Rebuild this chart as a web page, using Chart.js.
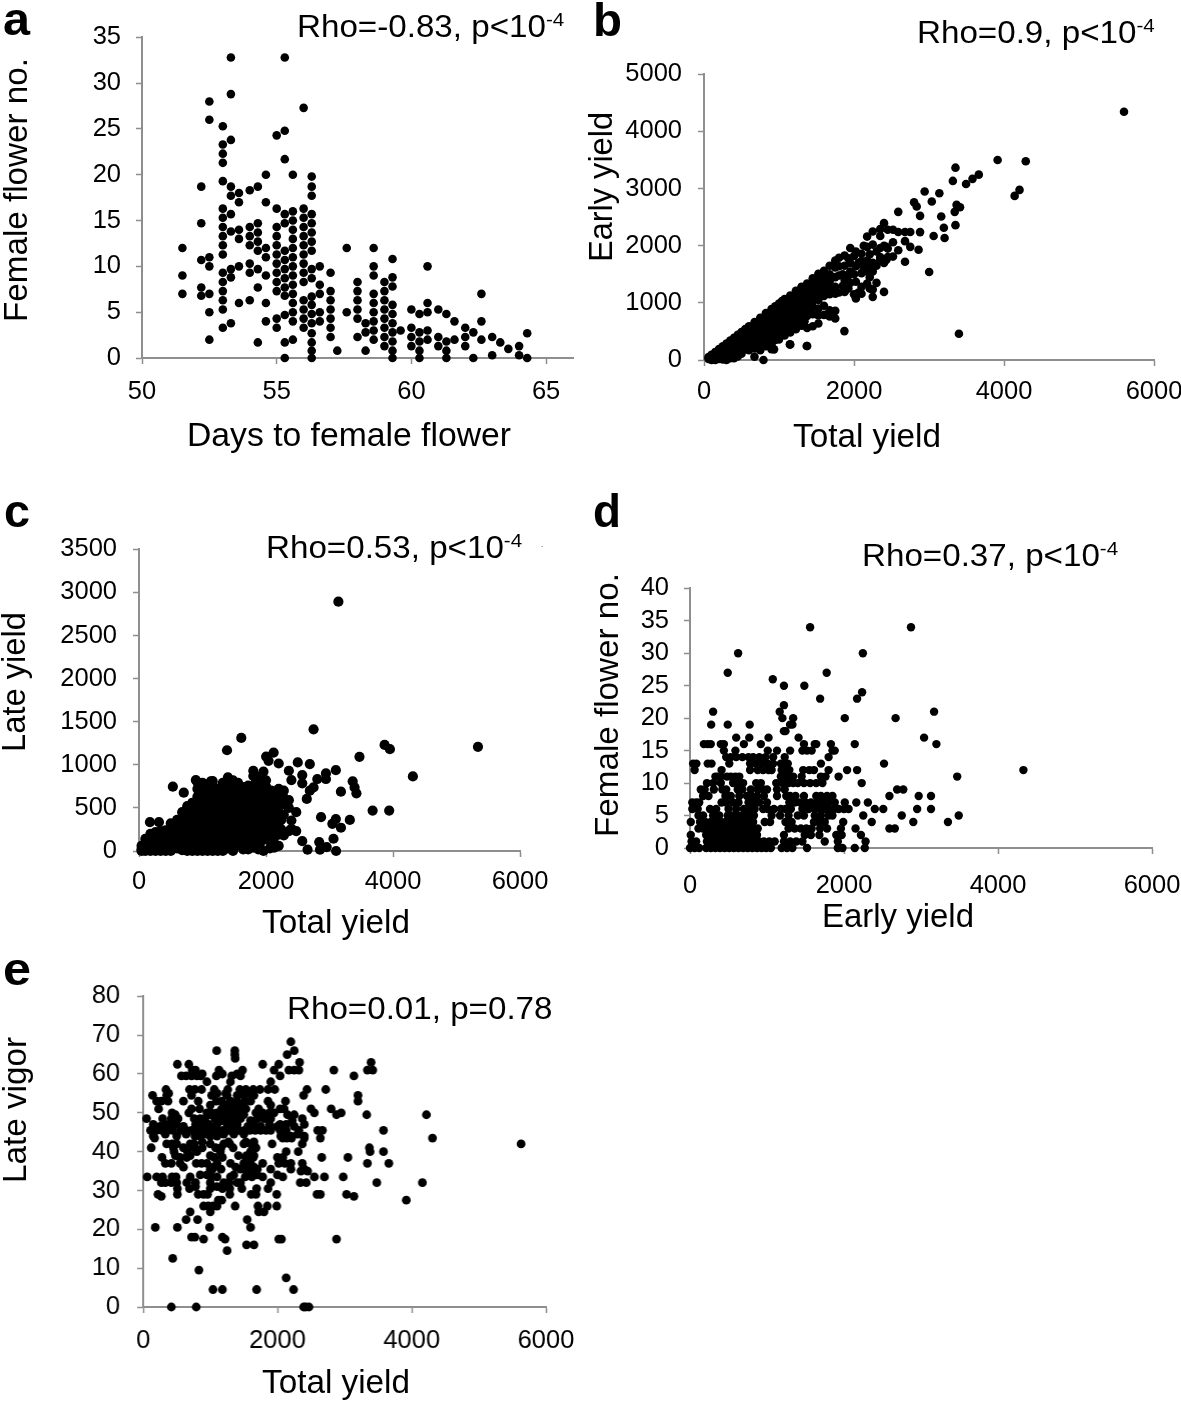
<!DOCTYPE html>
<html><head><meta charset="utf-8">
<script src="https://cdn.jsdelivr.net/npm/chart.js@4"></script>
<style>
html,body{margin:0;padding:0;background:#fff;width:1181px;height:1401px;overflow:hidden}
canvas{position:absolute;display:block}
svg{position:absolute;left:0;top:0;pointer-events:none}
svg text{font-family:"Liberation Sans",Arial,sans-serif;fill:#000}
</style></head><body>
<script>
// ---------- panel a: columns of days, with the flower counts read in each column
const aDays=[51.5,52.2,52.5,53,53.3,53.6,54,54.3,54.6,55,55.3,55.6,56,56.3,56.6,57,57.25,57.6,58,58.3,58.6,59,59.3,59.6,60,60.3,60.6,61,61.3,61.6,62,62.3,62.6,63,63.3,63.6,64,64.3];
const aFlowers=[[12,9,7],[18.7,14.7,10.7,7.7,6.8],[28,26,11,10,7,5,2],[25.3,23.3,22.3,21.3,19.3,16.3,15.3,14.3,13.3,12.3,11.3,9.3,8.3,7.3,6.3,5.3,3.3],[32.8,28.8,23.8,18.7,17.7,15.7,13.8,9.7,8.8,3.8],[18,17,14,13,10,6],[18.3,14.3,13.3,12.3,10.3,9.3,6.3],[18.7,14.7,13.7,12.7,11.7,9.7,7.7,1.7],[20,17,12,11,9,6,4],[24.3,16.3,14.3,13.3,12.3,11.3,10.3,9.3,8.3,7.3,4.3,3.3],[32.8,24.8,21.7,15.7,14.7,11.7,10.7,9.7,8.7,7.7,6.8,4.7,1.7,0],[20,16,15,14,13,12,11,10,9,8,7,6,5,4,2],[27.3,16.3,15.3,14.3,13.3,12.3,11.3,10.3,9.3,8.3,6.3,5.3,4.3,3.3],[19.8,18.7,17.7,15.7,14.7,13.7,12.7,11.7,9.7,8.7,6.7,5.8,4.8,3.8,2.7,1.7,0.8,0],[10,8,7,5,4],[9.3,7.3,6.3,5.3,4.3,3.3,2.3],[0.8],[12,5],[8.3,7.3,6.3,5.3,4.3,2.3],[3.8,2.8,0.8],[12,10,9,7,6,5,4,3,2],[8.3,7.3,6.3,5.3,4.3,3.3,2.3,1.3],[10.8,8.8,7.8,5.8,4.8,3.8,2.8,1.8,0.8,0],[3],[5.3,3.3,2.3,1.3],[4.8,2.8,1.8,0.8,0],[10,6,5,3,2],[5.3,2.3,1.3],[4.8,1.8,0.8,0],[4,2],[3.3,2.3,1.3],[2.8,0],[7,4,2],[2.3,0.3],[1.7],[1],[1.3,0.3],[2.7,0]];
// ---------- panel b: total yield, with early yield read at each total
const bTotal=[60,100,150,200,250,300,350,400,450,500,550,600,675,750,825,900,1000,1075,1150,1225,1300,1375,1450,1525,1600,1675,1750,1800,1875,1950,2025,2100,2175,2250,2350,2400,2450,2520,2590,2680,2750,2801,2836,2881,2942,3002,3037,3062,3138,3163,3198,3208,3318,3343,3353,3368,3399,3414,3494,3580,3664,3915,4142,4207,4290,5600,673,793,934,1145,1370,1872,2861,950,1040,1190,1340,1850,1925,2000,2060,2130,2210,2300,2430];
const bEarly=[[50,20],[90,40,0],[140,90,30,0],[190,140,80,20],[240,190,130,70,10],[290,240,180,120,60,0],[340,280,220,160,100,30],[390,330,270,210,150,90,30],[440,380,320,260,200,130,60],[490,430,370,310,250,180,110],[540,470,400,330,260,190],[590,520,450,380,310,240,170],[665,590,510,430,360,280,200],[740,660,580,500,420,340,260,170],[820,730,650,570,490,410,330,240],[890,800,720,630,550,470,390,300,190,260],[990,900,810,720,630,540,450,360],[1065,970,880,790,700,610,520,430],[1130,1040,950,860,770,680,590,480,270],[1210,1110,1020,930,840,750,660,540],[1280,1190,1100,1000,910,820,720,600],[1340,1250,1160,1060,960,870,770,560,244],[1430,1340,1240,1140,1030,930,800,590],[1510,1400,1300,1180,1050,900,780,640],[1560,1450,1320,1210,1120,950,790],[1650,1500,1380,1250,1150,870,760],[1740,1620,1450,1280,1160,860,727],[1790,1640,1480,1180],[1830,1650,1400,1190],[1960,1700,1550,1350],[1900,1640,1370,1075],[1860,1730,1520,1280,1160],[2160,1980,1740,1550,1337],[2250,2020,1700,1550,1233,1105],[2170,1960,1800,1750,2290],[2395,2000,1700,1192],[2280,1950,1800],[2280,2060,1810],[2593,2240,1920],[2240,2080,1720],[2240,1980],[2762],[2686],[2523,2238],[2948],[1541],[2773],[2169],[2919],[2512],[2314],[2134],[3134],[2593],[3366,2360],[2715],[459],[2674],[3080],[3170],[3244],[3500],[2872],[2977],[3477],[4345],[58],[0],[186],[273],[244],[506],[1930],[940,860,770,680,590,510,430,350],[1030,850,670,500],[1000,820,620],[1050,880,680],[1500,1300],[1780,1480,1250],[1820,1500,1150],[1700,1180],[2000,1620],[1850,1620,1450,1250],[1900,1650,1350],[1980,1750]];
// ---------- panel c: total yield, with late yield read at each total
const cTotal=[40,100,172,180,260,314,340,420,500,533,600,680,705,760,840,895,920,1000,1080,1131,1160,1240,1320,1386,1400,1480,1560,1611,1640,1720,1800,1880,1960,2002,2040,2120,2200,2280,2360,2400,2476,2500,2571,2642,2690,2749,2808,2867,2944,3045,3100,3140,3180,3320,3365,3395,3424,3472,3679,3868,3940,3951,4313,5338,2654,2850,2956,3104,3063,2838,1700,1900,2060,2130,1040,1440,1520,1680,1760,1840,1920,2000,2080,2160,2240];
const cLate=[[0,60,20],[0,70,140],[335],[0,60,130,200],[0,80,160,220],[335],[0,70,150,230],[0,70,160,240],[0,80,170,260,320],[746],[30,110,200,290,360],[10,100,190,280,370,450],[677],[0,90,180,270,360,450,520],[0,100,190,280,370,460,560],[823],[0,90,180,270,360,450,540,630,720,800],[0,100,200,300,400,500,600,700,790],[0,90,180,270,360,450,540,640,730],[808],[0,100,200,300,400,480,570,660,760,810],[0,90,180,270,360,450,550,640,720],[0,100,190,280,370,460,520,620,700,790],[1169],[30,120,210,300,390,480,600,690,780,854],[0,110,200,290,380,470,560,650,740,820],[90,180,270,360,450,540,630,720,790],[1312],[20,120,210,300,390,480,570,660,740],[20,170,240,330,420,510,600,690,760],[40,100,190,280,370,460,550,640,730,870,931],[20,130,230,320,410,500,590,680,770,860],[0,130,270,350,440,530,620,920],[1096],[250,340,430,520,610,680,1046],[140,300,380,470,560,690,1142],[60,190,330,420,510,650,720,1015],[180,420,540,620,700],[230,500,590,931],[258,354,823],[231,450],[1027],[115,785,881],[604],[700,1008],[1412,738],[835],[392],[835,900],[315],[370,938],[2892],[270,688],[360],[808],[738],[669],[1092],[469],[1231],[469],[1181],[865],[1208],[15],[15],[46],[0],[142],[104],[80,310],[60,180],[30,120,200],[40,230],[50,150,250,350,450,550,650],[70,160,250,340,430,520],[60,250,420,600,700],[300,430,520,610,700],[270,380,470,560,650,720],[240,330,420,510,600,690,800],[280,370,460,550,640,720,850],[210,300,390,480,570,650,750,820],[320,410,500,590,700],[290,360,450,540,620],[250,360,600]];
// ---------- panel d: flower count levels, with the early yields read on each level
const dFlowers=[34,30,27,26,25,24,23,22,21,20,19,18,17,16,15,14,13,12,11,10,9,8,7,6,5,4,3,2,1,0];
const dEarly=[[1560,2870],[625,2245],[490,1775],[1075],[1220,1485],[2235],[1690,2170],[1220],[1165,300,3170],[1200,1340,2010,2670],[275,490,775,1300,1330],[1220,1240],[600,770,1020,1410,3040],[180,230,270,400,440,700,920,1480,1620,1640,1830,2140,3200],[440,590,1010,1130,1300,1460,1520,1580,1850,1880],[470,530,600,680,760,820,900,980,1080,1230,1800],[40,83,230,280,510,780,850,930,1010,1080,1180,1220,1270,1700,2520],[60,410,780,880,950,1020,1060,1190,1240,1290,1470,1550,1610,1800,2040,2170,4330],[330,360,400,480,530,590,640,1180,1240,1280,1340,1450,1700,1760,1930,3470],[220,300,400,560,610,690,860,920,1120,1200,1280,1340,1400,1480,1560,1640,1720,2230],[140,190,310,420,470,620,680,790,880,950,1000,1130,1230,2690,2770],[170,240,460,530,640,740,800,870,960,1130,1250,1300,1370,1480,1640,1700,1780,1850,2590,2970,3130],[30,80,120,410,470,560,630,760,830,900,1000,1290,1360,1430,1500,1570,1650,1730,1800,1880,2010,2160,2310],[30,100,260,340,500,600,700,780,840,950,1010,1090,1180,1240,1310,1460,1540,1620,1690,1750,1810,1870,1930,2000,2060,2400,2510,2950,3130],[110,170,300,380,490,560,620,680,750,830,1060,1170,1280,1400,1480,1620,1700,1800,1850,2250,2750,3490],[10,130,200,270,340,400,460,530,580,640,690,770,820,970,1040,1240,1320,1610,1670,1750,1990,2360,2900,3350],[110,170,230,290,350,410,470,530,600,680,720,780,820,880,1280,1360,1440,1510,1580,1690,1780,1960,2150,2590,2660],[10,210,270,330,390,450,510,570,630,690,750,810,870,1220,1490,1570,1680,1900,1970,2220],[20,80,220,280,340,400,460,520,580,640,720,780,840,900,960,1030,1100,1220,1300,1380,1460,1750,1920,2280],[0,60,120,210,270,330,390,450,510,570,630,690,750,810,870,930,990,1050,1190,1260,1330,1520,1920,1980,2140,2270]];
// ---------- panel e: vigor levels, with the total yields read on each level
const eVigor=[68.3,66,65,64,63,62.5,61,59.5,58,56,54.5,53,51,50,49.5,48.5,47,45.5,44,43.5,42,41,40,38.5,37,35.5,35,33.5,32,30.5,29,28.5,27.5,26,24.5,22.5,20.5,18,17.5,16,14.5,12.5,9.5,7.5,4.5,0,55,52,48,46.5,44.5,42.5,39,36,34,31,60];
const eTotal=[[2200],[1095,2250,1365],[1365,2145],[1370],[3395,2330],[510,680,1780,2020],[730,780,1130,1480,1950,2170,2250,2320,2840,3340,3420],[570,640,720,800,860,1090,1320,1450,2040,3140],[950,1300,1900],[340,690,770,870,1060,1260,1440,1530,1640,1740,1860,1960,2440,2720],[140,350,720,1020,1250,1400,1500,1650,2390,3200],[200,270,370,600,820,1090,1170,1300,1400,1520,1600,1860,2120,3200],[230,720,840,1170,1290,1410,1530,1720,2040,2100,2500,2800],[430,680,950,1020,1100,1200,1300,1380,1480,1680,1780,1880,1950,2550,2950],[480,1000,1150,1250,1500,2150,2250,2880,3330,4220],[50,290,420,520,760,850,920,1070,1150,1250,1350,1450,1700,1800,1900,2370],[150,330,400,500,780,880,980,1100,1250,1400,1650,1880,2040,2130,2400],[110,200,280,360,440,560,640,720,800,880,950,1030,1110,1190,1270,1350,1430,1510,1590,1670,1750,1830,1900,2040,2130,2320,2600,2670,3580],[150,500,770,850,1000,1100,2050,2200,2400],[170,2080,2140,2210,2400,2640,4310],[350,430,500,700,760,1000,1200,1290,1500,1600,1920,2370,5630],[120,450,600,760,880,1080,1160,1340,1680,3370],[460,660,800,1150,1600,2130,2310,3380,3580],[280,550,650,1060,1180,1530,1600,1640,2000,2080,2660,3050],[330,420,550,790,870,950,1100,1300,1500,1600,1780,2020,2110,2200,2370,3340,3660],[1000,1030,1160,1450,1530,1620,1700,1900,2200,2400],[1600,2350,2450],[60,200,290,430,490,700,1020,1100,1300,1520,1620,1780,2080,2550,2700,2980],[270,330,420,500,650,780,1000,1200,1280,1400,1450,1900,2340,2430,3480,4160],[510,690,1000,1180,1290,1470,1690,1860],[220,510,820,900,960,1290,1610,1680,1990,2590,2640,3030],[270,3140],[1120,1170,3920],[900,970,1040,1100,1370,1710,1850,1990],[700,1000,1720,1800],[640,810,1550],[180,510,990,1600],[720,770,1180],[900,1220,2020,2060,2880],[1540,1650],[1250],[440],[830],[2130],[1040,1180,1690,2240],[420,790,2390,2420,2470],[380,1100,1230,1560],[1000,1240,1350,1480,1900],[1100,1180,1300,1600,2220],[250,600,1000,1300,1560,1750,2000,2250],[330,640,950,1200,1350,1500,2300],[880,1270,1530,1650],[480,700,1000,1420,1540,1650],[600,1050,1380,1570,1650],[850,950,1350,1560,1700,2000],[780,1100,1270],[780,880,1180,1400]];

// ---------- tick settings
const aXRange=[50,66,5], aYRange=[0,35,5];
const bXRange=[0,6000,2000], bYRange=[0,5000,1000];
const cXRange=[0,6000,2000], cYRange=[0,3500,500];
const dXRange=[0,6000,2000], dYRange=[0,40,5];
const eXRange=[0,6000,2000], eYRange=[0,80,10];

const colPts=(xs,lists)=>xs.flatMap((x,i)=>lists[i].map(y=>({x,y})));
const rowPts=(ys,lists)=>ys.flatMap((y,i)=>lists[i].map(x=>({x,y})));

const AXIS='#8e8e8e', FONT='"Liberation Sans",Arial,sans-serif';
const ML=100,MR=60,MT=30,MB=50;

function panel(box,pts,xr,yr,r,xPad,yPad){
  const [l,rt,b,t]=box;
  const c=document.createElement('canvas');
  const W=rt-l+ML+MR,H=b-t+MT+MB;
  c.width=W;c.height=H;c.style.left=(l-ML)+'px';c.style.top=(t-MT)+'px';
  c.style.width=W+'px';c.style.height=H+'px';
  document.body.appendChild(c);
  const scale=(rng,pad,fit)=>({type:'linear',min:rng[0],max:rng[1],
    afterBuildTicks:s=>{const k=[];for(let v=rng[0];v<=rng[1];v+=rng[2])k.push({value:v});s.ticks=k;},
    afterFit:fit,
    grid:{display:true,drawOnChartArea:false,drawTicks:true,tickLength:6,tickColor:AXIS,tickWidth:1.5},
    border:{display:true,color:AXIS,width:2},
    ticks:{stepSize:rng[2],padding:pad,color:'#000',maxRotation:0,autoSkip:false,callback:v=>String(v),font:{family:FONT,size:25.5}}});
  new Chart(c,{type:'scatter',
    data:{datasets:[{data:pts,pointRadius:r,pointHoverRadius:r,backgroundColor:'#000',borderWidth:0,clip:false}]},
    options:{responsive:false,animation:false,events:[],
      layout:{autoPadding:false,padding:{left:0,top:MT,right:MR,bottom:0}},
      plugins:{legend:{display:false},tooltip:{enabled:false}},
      scales:{x:scale(xr,xPad,s=>{s.height=MB;}),y:scale(yr,yPad,s=>{s.width=ML;})}}});
}
panel([141.5,572.5,358,37],colPts(aDays,aFlowers),aXRange,aYRange,4.3,13,15);
panel([703.5,1153.5,360,72.5],colPts(bTotal,bEarly),bXRange,bYRange,4.3,11,16);
panel([139,520,850.5,547.5],colPts(cTotal,cLate),cXRange,cYRange,5.1,10,16);
panel([689.5,1151.5,847.5,587.5],rowPts(dFlowers,dEarly),dXRange,dYRange,4.2,17,15);
panel([143,545.5,1307,994],rowPts(eVigor,eTotal),eXRange,eYRange,4.4,13,17);

// ---------- text
const NS='http://www.w3.org/2000/svg';
const svg=document.createElementNS(NS,'svg');
svg.setAttribute('width',1181);svg.setAttribute('height',1401);
document.body.appendChild(svg);
function label(s,x,y,size,opt={}){
  const t=document.createElementNS(NS,'text');
  t.setAttribute('font-size',size);
  if(opt.sx){t.setAttribute('transform','translate('+x+' '+y+') scale('+opt.sx+' 1)');}
  else{t.setAttribute('x',x);t.setAttribute('y',y);}
  if(opt.bold)t.setAttribute('font-weight','bold');
  if(opt.rot)t.setAttribute('transform','rotate(-90 '+x+' '+y+')');
  if(opt.width){t.setAttribute('textLength',opt.width);t.setAttribute('lengthAdjust','spacingAndGlyphs');}
  t.appendChild(document.createTextNode(s));
  if(opt.sup){const u=document.createElementNS(NS,'tspan');u.setAttribute('dy',-11);u.setAttribute('font-size',size*0.62);u.textContent=opt.sup;t.appendChild(u);}
  svg.appendChild(t);
}
label('a',3,35,47,{bold:1,width:27});
label('b',593,36,47,{bold:1,width:29});
label('c',4,527,47,{bold:1,width:26});
label('d',593,527,47,{bold:1,width:28});
label('e',3,985,47,{bold:1,width:28});
label('Rho=-0.83, p<10',297,37,31,{sup:'-4',sx:1.07});
label('Rho=0.9, p<10',917,43,31,{sup:'-4',sx:1.07});
label('Rho=0.53, p<10',266,558,31,{sup:'-4',sx:1.07});
label('Rho=0.37, p<10',862,566,31,{sup:'-4',sx:1.07});
label('Rho=0.01, p=0.78',287,1019,31,{sx:1.07});
label('Days to female flower',187,446,33,{width:324});
label('Total yield',793,447,33,{width:148});
label('Total yield',262,933,33,{width:148});
label('Early yield',822,927,33,{width:152});
label('Total yield',262,1393,33,{width:148});
label('Female flower no.',27,322,34,{rot:1,width:264});
label('Early yield',612,262,34,{rot:1,width:150});
label('Late yield',24.5,752,34,{rot:1,width:140});
label('Female flower no.',618,837,34,{rot:1,width:264});
label('Late vigor',26,1183,34,{rot:1,width:146});
label('.',541,547,8);
</script>
</body></html>
